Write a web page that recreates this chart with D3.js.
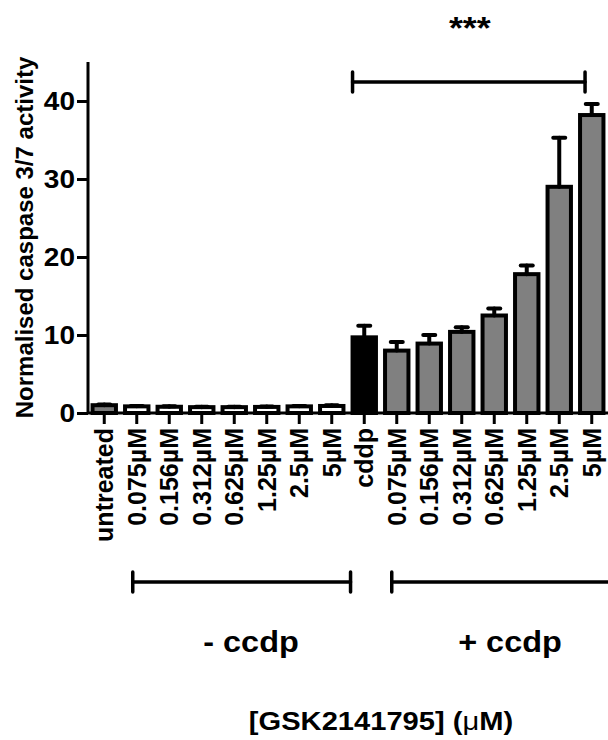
<!DOCTYPE html>
<html lang="en">
<head>
  <meta charset="UTF-8">
  <title>Caspase 3/7 activity</title>
  <style>
    body {
      margin: 0;
      padding: 0;
      background-color: #ffffff;
    }
    svg text {
      font-family: "Liberation Sans", Arial, sans-serif;
      font-weight: bold;
      fill: #000;
    }
  </style>
  <script src="https://d3js.org/d3.v7.min.js"></script>
</head>
<body>
  <div id="chart"></div>

  <script>
    // Bar labels (two groups of eight)
    const labels = [
      "untreated", "0.075\u00b5M", "0.156\u00b5M", "0.312\u00b5M", "0.625\u00b5M", "1.25\u00b5M", "2.5\u00b5M", "5\u00b5M",
      "cddp", "0.075\u00b5M", "0.156\u00b5M", "0.312\u00b5M", "0.625\u00b5M", "1.25\u00b5M", "2.5\u00b5M", "5\u00b5M"
    ];
    // Mean normalised caspase 3/7 activity
    const means = [1.0, 0.85, 0.8, 0.75, 0.75, 0.78, 0.85, 0.9,
                   9.7, 8.0, 8.9, 10.4, 12.5, 17.8, 29.0, 38.2];
    // Upper error (SEM)
    const errors = [0.1, 0.05, 0.05, 0.05, 0.05, 0.05, 0.05, 0.1,
                    1.5, 1.1, 1.1, 0.6, 0.9, 1.1, 6.3, 1.4];
    // Bar kind: u = untreated, g = GSK only, c = cddp only, gc = GSK + cddp
    const kinds = ["u", "g", "g", "g", "g", "g", "g", "g",
                   "c", "gc", "gc", "gc", "gc", "gc", "gc", "gc"];
    const yTicks = [0, 10, 20, 30, 40];

    const fillFor = { u: "#7a7a7a", g: "#ffffff", c: "#000000", gc: "#808080" };

    const width = 608;
    const height = 740;
    const margin = { top: 62, left: 88, bottom: 327 };
    const plotBottom = height - margin.bottom;   // 413
    const stretch = 1.12;  // horizontal text widening seen in the figure

    const data = labels.map((label, i) => ({
      i: i, label: label, mean: means[i], err: errors[i], kind: kinds[i]
    }));

    const svg = d3.select("#chart")
      .append("svg")
      .attr("width", width)
      .attr("height", height);

    const x = d3.scaleBand()
      .domain(data.map(d => d.i))
      .range([margin.left, width])
      .paddingInner(0.28)
      .paddingOuter(0.14);

    const y = d3.scaleLinear()
      .domain([0, 45])
      .range([plotBottom, margin.top]);

    const cx = i => x(i) + x.bandwidth() / 2;

    // helper for wide horizontal labels
    function wideText(tx, ty, size, str) {
      return svg.append("text")
        .attr("transform", `translate(${tx},${ty}) scale(${stretch},1)`)
        .attr("text-anchor", "middle")
        .style("font-size", size + "px")
        .text(str);
    }

    // Bars
    svg.selectAll("rect.bar")
      .data(data)
      .enter()
      .append("rect")
      .attr("class", "bar")
      .attr("x", d => x(d.i))
      .attr("y", d => y(d.mean))
      .attr("width", x.bandwidth())
      .attr("height", d => y(0) - y(d.mean))
      .attr("fill", d => fillFor[d.kind])
      .attr("stroke", "#000")
      .attr("stroke-width", 4);

    // Error bars (upper only)
    const errG = svg.append("g")
      .attr("stroke", "#000")
      .attr("stroke-width", 4)
      .attr("stroke-linecap", "round");

    errG.selectAll("line.stem")
      .data(data)
      .enter()
      .append("line")
      .attr("x1", d => cx(d.i))
      .attr("x2", d => cx(d.i))
      .attr("y1", d => y(d.mean))
      .attr("y2", d => y(d.mean + d.err));

    errG.selectAll("line.cap")
      .data(data)
      .enter()
      .append("line")
      .attr("x1", d => cx(d.i) - 6)
      .attr("x2", d => cx(d.i) + 6)
      .attr("y1", d => y(d.mean + d.err))
      .attr("y2", d => y(d.mean + d.err));

    // Axes
    const yAxis = svg.append("g")
      .attr("transform", `translate(${margin.left},0)`)
      .call(d3.axisLeft(y).tickValues(yTicks).tickSize(11).tickPadding(3));

    yAxis.select(".domain")
      .attr("d", `M0,${margin.top}V${plotBottom}`)
      .attr("stroke-width", 3);
    yAxis.selectAll(".tick line").attr("stroke-width", 3);
    yAxis.selectAll(".tick text")
      .attr("x", null)
      .attr("transform", `translate(-13,0) scale(${stretch},1)`)
      .style("font-size", "25px")
      .style("font-family", "'Liberation Sans', Arial, sans-serif")
      .style("font-weight", "bold");

    const xAxis = svg.append("g")
      .attr("transform", `translate(0,${plotBottom})`)
      .call(d3.axisBottom(x).tickSize(11).tickFormat(i => labels[i]));

    xAxis.select(".domain")
      .attr("d", `M${margin.left},0H${width}`)
      .attr("stroke-width", 3);
    xAxis.selectAll(".tick line").attr("stroke-width", 3);
    xAxis.selectAll(".tick text")
      .attr("transform", "rotate(-90)")
      .attr("text-anchor", "end")
      .attr("x", -15)
      .attr("y", 0)
      .attr("dy", "0.36em")
      .style("font-size", "25px")
      .style("font-family", "'Liberation Sans', Arial, sans-serif")
      .style("font-weight", "bold");

    // Y axis title
    svg.append("text")
      .attr("transform", `translate(33,${(57 + 418) / 2}) rotate(-90)`)
      .attr("text-anchor", "middle")
      .style("font-size", "24px")
      .text("Normalised caspase 3/7 activity");

    // Significance bracket
    const sigY = 82;
    const sigX1 = x(8);
    const sigX2 = x(15) + 5;
    const sig = svg.append("g")
      .attr("stroke", "#000")
      .attr("stroke-width", 3.5)
      .attr("stroke-linecap", "round");
    sig.append("line").attr("x1", sigX1).attr("x2", sigX2).attr("y1", sigY).attr("y2", sigY);
    sig.append("line").attr("x1", sigX1).attr("x2", sigX1).attr("y1", sigY - 10).attr("y2", sigY + 10);
    sig.append("line").attr("x1", sigX2).attr("x2", sigX2).attr("y1", sigY - 10).attr("y2", sigY + 10);

    wideText((sigX1 + sigX2) / 2 + 1, 39, 32, "***");

    // Group brackets
    const groupY = 582;
    const groups = [
      { x1: cx(1) - 4, x2: x(8) - 2, label: "- ccdp" },
      { x1: cx(9) - 5, x2: width + 20, label: "+ ccdp" }
    ];
    const gb = svg.append("g")
      .attr("stroke", "#000")
      .attr("stroke-width", 3.5)
      .attr("stroke-linecap", "round");
    groups.forEach(g => {
      gb.append("line").attr("x1", g.x1).attr("x2", g.x2).attr("y1", groupY).attr("y2", groupY);
      gb.append("line").attr("x1", g.x1).attr("x2", g.x1).attr("y1", groupY - 10).attr("y2", groupY + 10);
      gb.append("line").attr("x1", g.x2).attr("x2", g.x2).attr("y1", groupY - 10).attr("y2", groupY + 10);
    });

    wideText(251, 652, 29, "- ccdp");
    wideText(510, 652, 29, "+ ccdp");

    // X axis title
    const xt = wideText(381, 730, 26, "");
    xt.append("tspan").text("[GSK2141795] (");
    xt.append("tspan").style("font-weight", "normal").text("\u03bc");
    xt.append("tspan").text("M)");
  </script>
</body>
</html>
